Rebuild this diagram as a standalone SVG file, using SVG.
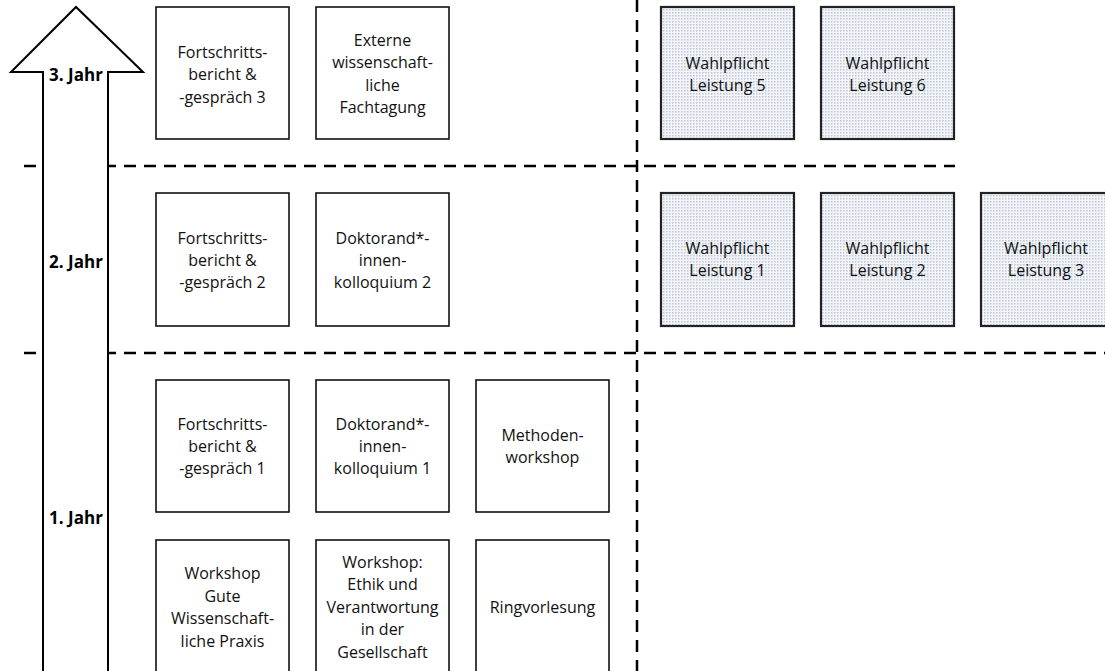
<svg xmlns="http://www.w3.org/2000/svg" width="1105" height="671" viewBox="0 0 1105 671">
<defs>
<pattern id="dots" width="3" height="3" patternUnits="userSpaceOnUse">
<rect width="3" height="3" fill="#f3f5f8"/>
<rect x="0" y="0" width="1.5" height="1.5" fill="#bcc6d6"/>
</pattern>
</defs>
<style>
.box{fill:#fff;stroke:#111;stroke-width:1.6}
.sbox{fill:url(#dots);stroke:#222;stroke-width:2.2}
.t{font-family:"Open Sans","Noto Sans",sans-serif;font-size:16px;fill:#111;text-anchor:middle}
.y{font-family:"Open Sans","Noto Sans",sans-serif;font-size:17px;font-weight:bold;fill:#000;text-anchor:middle}
.dash{stroke:#000;stroke-width:2.5;stroke-dasharray:12 8;fill:none}
.arrow{fill:#fff;stroke:#000;stroke-width:2}
</style>
<rect width="1105" height="671" fill="#fff"/>
<g id="connectors">
<line class="dash" x1="24" y1="166" x2="955" y2="166"/>
<line class="dash" x1="24" y1="353" x2="1105" y2="353"/>
<line class="dash" x1="637" y1="0" x2="637" y2="671"/>
</g>
<g id="arrow">
<polygon class="arrow" points="43,673 43,72 11,72 76,7 143,72 108,72 108,673"/>
<text class="y" x="76" y="81">3. Jahr</text>
<text class="y" x="76" y="268">2. Jahr</text>
<text class="y" x="76" y="524">1. Jahr</text>
</g>
<g id="n-fb3">
<rect class="box" x="156" y="7" width="133" height="132"/>
<text class="t" x="222.5" y="58">Fortschritts-</text>
<text class="t" x="222.5" y="80">bericht &amp;</text>
<text class="t" x="222.5" y="103">-gespräch 3</text>
</g>
<g id="n-tagung">
<rect class="box" x="316" y="7" width="133" height="132"/>
<text class="t" x="382.5" y="46">Externe</text>
<text class="t" x="382.5" y="68">wissenschaft-</text>
<text class="t" x="382.5" y="91">liche</text>
<text class="t" x="382.5" y="113">Fachtagung</text>
</g>
<g id="n-wp5">
<rect class="sbox" x="661" y="7" width="133" height="132"/>
<text class="t" x="727.5" y="69">Wahlpflicht</text>
<text class="t" x="727.5" y="91">Leistung 5</text>
</g>
<g id="n-wp6">
<rect class="sbox" x="821" y="7" width="133" height="132"/>
<text class="t" x="887.5" y="69">Wahlpflicht</text>
<text class="t" x="887.5" y="91">Leistung 6</text>
</g>
<g id="n-fb2">
<rect class="box" x="156" y="193" width="133" height="133"/>
<text class="t" x="222.5" y="244">Fortschritts-</text>
<text class="t" x="222.5" y="266">bericht &amp;</text>
<text class="t" x="222.5" y="288">-gespräch 2</text>
</g>
<g id="n-dk2">
<rect class="box" x="316" y="193" width="133" height="133"/>
<text class="t" x="382.5" y="244">Doktorand*-</text>
<text class="t" x="382.5" y="266">innen-</text>
<text class="t" x="382.5" y="288">kolloquium 2</text>
</g>
<g id="n-wp1">
<rect class="sbox" x="661" y="193" width="133" height="133"/>
<text class="t" x="727.5" y="254">Wahlpflicht</text>
<text class="t" x="727.5" y="276">Leistung 1</text>
</g>
<g id="n-wp2">
<rect class="sbox" x="821" y="193" width="133" height="133"/>
<text class="t" x="887.5" y="254">Wahlpflicht</text>
<text class="t" x="887.5" y="276">Leistung 2</text>
</g>
<g id="n-wp3">
<rect class="sbox" x="981" y="193" width="133" height="133"/>
<text class="t" x="1046" y="254">Wahlpflicht</text>
<text class="t" x="1046" y="276">Leistung 3</text>
</g>
<g id="n-fb1">
<rect class="box" x="156" y="380" width="133" height="132"/>
<text class="t" x="222.5" y="430">Fortschritts-</text>
<text class="t" x="222.5" y="452">bericht &amp;</text>
<text class="t" x="222.5" y="474">-gespräch 1</text>
</g>
<g id="n-dk1">
<rect class="box" x="316" y="380" width="133" height="132"/>
<text class="t" x="382.5" y="430">Doktorand*-</text>
<text class="t" x="382.5" y="452">innen-</text>
<text class="t" x="382.5" y="474">kolloquium 1</text>
</g>
<g id="n-methoden">
<rect class="box" x="476" y="380" width="133" height="132"/>
<text class="t" x="542.5" y="441">Methoden-</text>
<text class="t" x="542.5" y="463">workshop</text>
</g>
<g id="n-gwp">
<rect class="box" x="156" y="540" width="133" height="134"/>
<text class="t" x="222.5" y="579">Workshop</text>
<text class="t" x="222.5" y="602">Gute</text>
<text class="t" x="222.5" y="624">Wissenschaft-</text>
<text class="t" x="222.5" y="647">liche Praxis</text>
</g>
<g id="n-ethik">
<rect class="box" x="316" y="540" width="133" height="134"/>
<text class="t" x="382.5" y="568">Workshop:</text>
<text class="t" x="382.5" y="590">Ethik und</text>
<text class="t" x="382.5" y="613">Verantwortung</text>
<text class="t" x="382.5" y="635">in der</text>
<text class="t" x="382.5" y="658">Gesellschaft</text>
</g>
<g id="n-ring">
<rect class="box" x="476" y="540" width="133" height="134"/>
<text class="t" x="542.5" y="613">Ringvorlesung</text>
</g>
</svg>
